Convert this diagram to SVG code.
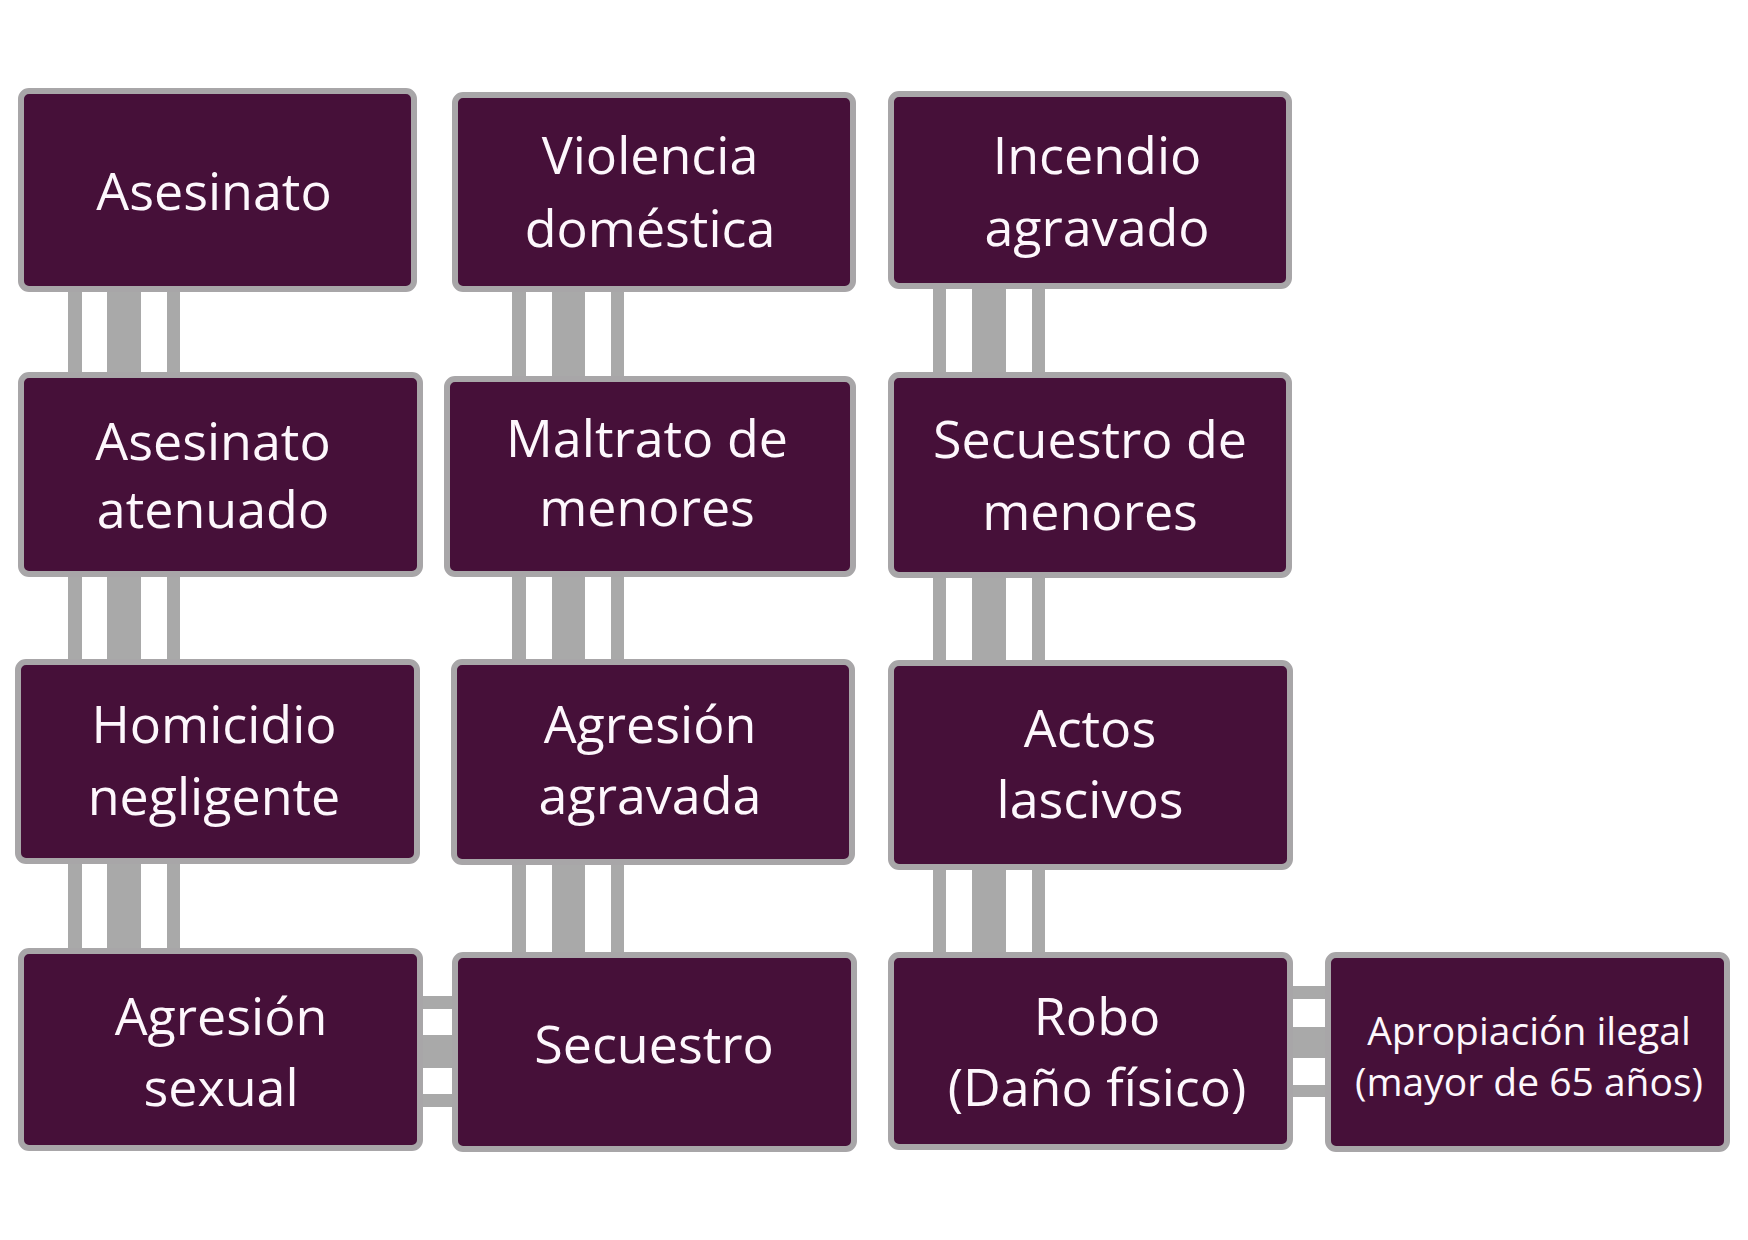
<svg xmlns="http://www.w3.org/2000/svg" width="1748" height="1240" viewBox="0 0 1748 1240">
<style>
.box{fill:#461039;stroke:#a8a6a8;stroke-width:6}
.c{fill:#a9a9a9}
.t{font-family:"Open Sans","Noto Sans","Liberation Sans",sans-serif;font-size:52px;fill:#fdf7fc;text-anchor:middle}
.s{font-size:39px}
</style>
<rect width="1748" height="1240" fill="#ffffff"/>
<g id="connectors">
<rect class="c" x="68" y="289" width="14" height="86"/><rect class="c" x="107" y="289" width="34" height="86"/><rect class="c" x="167" y="289" width="13" height="86"/>
<rect class="c" x="68" y="574" width="14" height="88"/><rect class="c" x="107" y="574" width="34" height="88"/><rect class="c" x="167" y="574" width="13" height="88"/>
<rect class="c" x="68" y="861" width="14" height="90"/><rect class="c" x="107" y="861" width="34" height="90"/><rect class="c" x="167" y="861" width="13" height="90"/>
<rect class="c" x="512" y="289" width="14" height="90"/><rect class="c" x="552" y="289" width="33" height="90"/><rect class="c" x="611" y="289" width="13" height="90"/>
<rect class="c" x="512" y="574" width="14" height="88"/><rect class="c" x="552" y="574" width="33" height="88"/><rect class="c" x="611" y="574" width="13" height="88"/>
<rect class="c" x="512" y="862" width="14" height="93"/><rect class="c" x="552" y="862" width="33" height="93"/><rect class="c" x="611" y="862" width="13" height="93"/>
<rect class="c" x="933" y="286" width="13" height="89"/><rect class="c" x="972" y="286" width="34" height="89"/><rect class="c" x="1032" y="286" width="13" height="89"/>
<rect class="c" x="933" y="575" width="13" height="88"/><rect class="c" x="972" y="575" width="34" height="88"/><rect class="c" x="1032" y="575" width="13" height="88"/>
<rect class="c" x="933" y="867" width="13" height="88"/><rect class="c" x="972" y="867" width="34" height="88"/><rect class="c" x="1032" y="867" width="13" height="88"/>
<rect class="c" x="420" y="996" width="35" height="13"/><rect class="c" x="420" y="1035" width="35" height="33"/><rect class="c" x="420" y="1094" width="35" height="13"/>
<rect class="c" x="1290" y="986" width="38" height="13"/><rect class="c" x="1290" y="1027" width="38" height="31"/><rect class="c" x="1290" y="1085" width="38" height="12"/>
</g>
<g id="n1"><rect class="box" x="21" y="91" width="393" height="198" rx="8"/><text class="t" x="214" y="210">Asesinato</text></g>
<g id="n2"><rect class="box" x="455" y="95" width="398" height="194" rx="8"/><text class="t" x="650" y="174">Violencia</text><text class="t" x="650" y="247">doméstica</text></g>
<g id="n3"><rect class="box" x="891" y="94" width="398" height="192" rx="8"/><text class="t" x="1097" y="174">Incendio</text><text class="t" x="1097" y="246">agravado</text></g>
<g id="n4"><rect class="box" x="21" y="375" width="399" height="199" rx="8"/><text class="t" x="213" y="460">Asesinato</text><text class="t" x="213" y="528">atenuado</text></g>
<g id="n5"><rect class="box" x="447" y="379" width="406" height="195" rx="8"/><text class="t" x="647" y="457">Maltrato de</text><text class="t" x="647" y="526">menores</text></g>
<g id="n6"><rect class="box" x="891" y="375" width="398" height="200" rx="8"/><text class="t" x="1090" y="458">Secuestro de</text><text class="t" x="1090" y="530">menores</text></g>
<g id="n7"><rect class="box" x="18" y="662" width="399" height="199" rx="8"/><text class="t" x="214" y="743">Homicidio</text><text class="t" x="214" y="815">negligente</text></g>
<g id="n8"><rect class="box" x="454" y="662" width="398" height="200" rx="8"/><text class="t" x="650" y="743">Agresión</text><text class="t" x="650" y="814">agravada</text></g>
<g id="n9"><rect class="box" x="891" y="663" width="399" height="204" rx="8"/><text class="t" x="1090" y="747">Actos</text><text class="t" x="1090" y="818">lascivos</text></g>
<g id="n10"><rect class="box" x="21" y="951" width="399" height="197" rx="8"/><text class="t" x="221" y="1035">Agresión</text><text class="t" x="221" y="1106">sexual</text></g>
<g id="n11"><rect class="box" x="455" y="955" width="399" height="194" rx="8"/><text class="t" x="654" y="1063">Secuestro</text></g>
<g id="n12"><rect class="box" x="891" y="955" width="399" height="192" rx="8"/><text class="t" x="1097" y="1035">Robo</text><text class="t" x="1097" y="1106">(Daño físico)</text></g>
<g id="n13"><rect class="box" x="1328" y="955" width="399" height="194" rx="8"/><text class="t s" x="1529" y="1045">Apropiación ilegal</text><text class="t s" x="1529" y="1096">(mayor de 65 años)</text></g>
</svg>
